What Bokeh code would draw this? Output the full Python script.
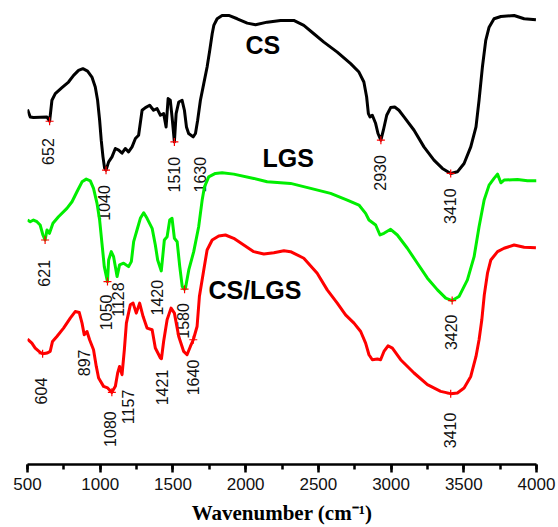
import numpy as np
from bokeh.plotting import figure
from bokeh.models import Range1d, SingleIntervalTicker, ColumnDataSource
from bokeh.embed import file_html
from bokeh.resources import INLINE
from bokeh.core.properties import value

# ---------------- data (wavenumber in cm-1, transmittance in arbitrary offset units) -------------
cs_wn = [500, 519, 541, 587, 634, 652, 668, 691, 737, 782, 817, 851, 881, 913, 943, 966, 982, 996,
         1007, 1019, 1030, 1040, 1058, 1081, 1104, 1127, 1150, 1173, 1195, 1219, 1242, 1264, 1288,
         1311, 1340, 1367, 1391, 1414, 1436, 1453, 1467, 1482, 1494, 1510, 1522, 1540, 1563, 1579,
         1593, 1608, 1639, 1655, 1670, 1689, 1712, 1735, 1753, 1770, 1781, 1804, 1838, 1884, 1942,
         2011, 2068, 2148, 2240, 2331, 2400, 2469, 2538, 2630, 2722, 2779, 2813, 2832, 2844, 2855,
         2871, 2894, 2910, 2930, 2947, 2970, 2997, 3025, 3054, 3089, 3158, 3226, 3295, 3353, 3410,
         3456, 3502, 3548, 3584, 3605, 3628, 3651, 3674, 3708, 3755, 3846, 3915, 3996]
cs_t = [355.7, 348.3, 347.7, 348, 348.3, 344, 365, 371.7, 377.7, 383.3, 390, 395, 396.7, 394.3,
        388.3, 378.3, 365, 345, 325, 308.3, 297, 295, 303.3, 308.3, 316.7, 315, 312, 316.7, 313.3,
        318.3, 326.7, 330, 355, 357.7, 360, 355, 356.7, 350, 351.7, 338.3, 366.7, 365, 348.3, 323.3,
        351.7, 363.3, 365, 355, 338.3, 331.7, 328.3, 331.7, 345, 365, 381.7, 398.3, 415, 431.7, 440,
        446.7, 450, 450, 446.7, 442.3, 440.7, 443.3, 445, 445, 440, 431.7, 423.3, 413.3, 401.7,
        393.3, 383.3, 368.3, 351.7, 348.3, 350, 341.7, 331.7, 325, 335, 350, 357.7, 358.3, 355,
        348.3, 335, 318.3, 305, 296.7, 291.7, 293.3, 301.7, 318.3, 338.3, 365, 398.3, 425, 438.3,
        446.7, 449, 450, 446.7, 445.7]

lgs_wn = [500, 519, 541, 565, 587, 606, 621, 634, 651, 675, 713, 771, 806, 840, 875, 904, 932, 954,
          978, 996, 1012, 1028, 1050, 1058, 1076, 1092, 1116, 1133, 1161, 1195, 1214, 1230, 1253,
          1276, 1299, 1322, 1357, 1379, 1395, 1420, 1431, 1441, 1460, 1478, 1494, 1510, 1529, 1547,
          1564, 1580, 1586, 1609, 1643, 1677, 1701, 1717, 1746, 1792, 1838, 1918, 2056, 2148, 2240,
          2309, 2447, 2584, 2699, 2779, 2825, 2848, 2894, 2924, 2951, 2997, 3043, 3112, 3181, 3250,
          3319, 3376, 3420, 3467, 3525, 3571, 3605, 3640, 3674, 3708, 3732, 3755, 3777, 3869, 3938,
          4000]
lgs_t = [245, 243.3, 245, 243.3, 240, 230, 225, 235, 231.7, 241.7, 248.3, 256.7, 263.3, 273.3,
         283.3, 286, 284.3, 276.7, 261.7, 245, 221.7, 198.3, 183.3, 205, 213.3, 208.3, 188.3, 200,
         201.7, 198.3, 203.3, 223.3, 235, 246.7, 252.3, 246.7, 236.7, 220, 205, 194, 210, 225,
         228.3, 245, 246.7, 226.7, 223.3, 198.3, 178.3, 175.7, 176.7, 195, 213.3, 238.3, 265,
         278.3, 288.3, 291.7, 292.3, 291, 286.7, 283.3, 282.3, 281.7, 276.7, 271.7, 265, 260,
         251.7, 245, 240, 230, 231.7, 235.7, 230, 216.7, 201.7, 186.7, 175, 166.7, 164.3, 168.3,
         185, 208.3, 238.3, 265, 280, 286.7, 291, 282.3, 285, 285.7, 284.3, 284.3]

mix_wn = [500, 530, 553, 587, 604, 634, 656, 672, 702, 748, 794, 828, 856, 875, 890, 909, 927, 954,
          973, 989, 1023, 1051, 1080, 1104, 1120, 1133, 1150, 1166, 1180, 1207, 1226, 1248, 1271,
          1295, 1322, 1357, 1379, 1414, 1421, 1436, 1460, 1487, 1510, 1540, 1574, 1597, 1620, 1640,
          1666, 1682, 1712, 1735, 1770, 1815, 1861, 1918, 1987, 2056, 2125, 2194, 2263, 2309, 2400,
          2492, 2561, 2630, 2687, 2745, 2791, 2825, 2848, 2871, 2906, 2928, 2951, 2979, 3009, 3066,
          3158, 3250, 3341, 3410, 3456, 3502, 3548, 3584, 3605, 3624, 3641, 3663, 3686, 3732, 3777,
          3846, 3915, 3996]
mix_t = [125.7, 121.7, 116.7, 112.3, 111, 111.7, 113.3, 123.3, 128.3, 136.7, 146.7, 153.3, 152.3,
         141.7, 130, 133.3, 125, 115, 98.3, 86.7, 78.3, 76.7, 72.3, 78.3, 91.7, 98.3, 90, 115,
         141.7, 160, 161.7, 151.7, 161.7, 148.3, 136.7, 135, 116.7, 106.7, 106, 123.3, 145, 156.7,
         151.7, 128.3, 113.3, 110, 118.3, 125, 138.3, 168.3, 195, 215, 225, 229, 230, 226.7, 220,
         213.3, 211, 212.3, 214.3, 213.3, 206.7, 191.7, 175, 161.7, 150, 141.7, 133.3, 121.7, 110,
         105, 105.7, 105, 113.3, 119, 116.7, 105, 91.7, 80, 73.3, 71, 71.7, 76.7, 88.3, 108.3, 125,
         145, 170, 191.7, 205, 213.3, 216.7, 220, 217.7, 217.3]

# band assignments (labels) and marked peaks
cs_bands = [652, 1040, 1510, 1630, 2930, 3410]
cs_marks = [652, 1040, 1510, 2930, 3410]
lgs_bands = [621, 1050, 1128, 1420, 1580, 3420]
lgs_marks = [621, 1050, 1580, 3420]
mix_bands = [604, 897, 1080, 1157, 1421, 1640, 3410]
mix_marks = [604, 1080, 1640, 3410]

# ---------------- label layout (x shift in cm-1, gap below curve in px) ----------------
cs_dx, cs_gap = [-13, -12, 0, 59, -9, -8], [17, 15, 15, 21, 15, 15]
lgs_dx, lgs_gap = [-6, -8, -3, -30, -8, -11], [20, 13, 14, 9, 14, 14]
mix_dx, mix_gap = [-10, -10, -11, 33, 3, -3, -8], [24, 16, 19, 26, 11, 20, 19]

p = figure(width=558, height=527, output_backend="svg", toolbar_location=None,
           x_range=Range1d(500, 4000), y_range=Range1d(0, 465),
           y_axis_location=None, min_border_left=27, min_border_right=22,
           min_border_top=0, min_border_bottom=62)
p.outline_line_color = None
p.xgrid.visible = False
p.ygrid.visible = False
p.background_fill_color = "white"
p.border_fill_color = "white"

series = [
    (cs_wn, cs_t, "#000000", cs_bands, cs_marks, cs_dx, cs_gap),
    (lgs_wn, lgs_t, "#00ee00", lgs_bands, lgs_marks, lgs_dx, lgs_gap),
    (mix_wn, mix_t, "#ff0000", mix_bands, mix_marks, mix_dx, mix_gap),
]

for wn, t, col, bands, marks, dx, gap in series:
    p.line(wn, t, line_color=col, line_width=3, line_join="round")
    my = np.interp(marks, wn, t)
    p.scatter(marks, my, marker="cross", size=8, line_color="#ff0000", line_width=1.2)
    txt = [str(b) for b in bands]
    ly = np.interp(bands, wn, t) - np.array(gap)
    lx = np.array(bands) + np.array(dx)
    src = ColumnDataSource(dict(x=lx, y=ly, txt=txt))
    p.text(x="x", y="y", text="txt", source=src, angle=90, angle_units="deg",
           text_align="right", text_baseline="middle",
           text_font=value("Liberation Sans"), text_font_style="normal",
           text_font_size="16px", text_color="#111111")

# sample names
names = ["CS", "LGS", "CS/LGS"]
name_x = [1999, 2116, 1744]
name_y = [420, 307, 175]
p.text(x=name_x, y=name_y, text=names, text_align="left", text_baseline="middle",
       text_font=value("Liberation Sans"), text_font_style="bold", text_font_size="25px",
       text_color="#000000")

ax = p.xaxis[0]
ax.ticker = SingleIntervalTicker(interval=500, num_minor_ticks=2)
ax.axis_line_width = 2.5
ax.axis_line_color = "black"
ax.major_tick_in = 0
ax.major_tick_out = 8
ax.minor_tick_in = 0
ax.minor_tick_out = 5
ax.major_tick_line_width = 2.5
ax.minor_tick_line_width = 2.5
ax.major_label_text_font = "Liberation Sans"
ax.major_label_text_font_size = "17px"
ax.major_label_text_color = "#111111"
ax.major_label_standoff = 5
ax.axis_label = "Wavenumber (cm\u207b\u00b9)"
ax.axis_label_text_font = "Liberation Serif"
ax.axis_label_text_font_style = "bold"
ax.axis_label_text_font_size = "21px"
ax.axis_label_standoff = 8
ax.axis_label_text_color = "black"

open("out.html", "w").write(file_html(p, INLINE))
